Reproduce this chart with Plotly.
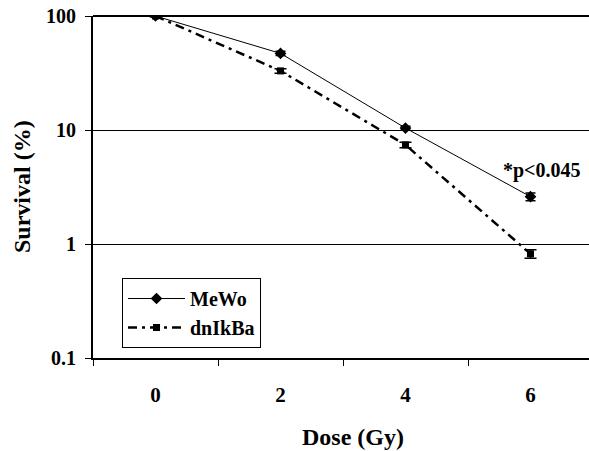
import plotly.graph_objects as go

doses = ["0", "2", "4", "6"]
mewo = [100, 47, 10.4, 2.6]
mewo_err = [1.5, 2.0, 0.4, 0.2]
dnikba = [100, 33, 7.4, 0.82]
dnikba_err = [1.5, 1.5, 0.4, 0.07]
y_ticks = [0.1, 1, 10, 100]
y_ticklabels = ["0.1", "1", "10", "100"]

FONT = "Liberation Serif, Times New Roman, serif"

W, H = 589, 451
L, T, B = 93, 16, 93
PW = W - L
PH = H - T - B

fig = go.Figure()
fig.add_trace(go.Scatter(
    x=doses, y=mewo, name="MeWo", mode="lines+markers",
    line=dict(color="black", width=1),
    marker=dict(symbol="diamond", size=9, color="black"),
    error_y=dict(type="data", array=mewo_err, color="black", thickness=1.5, width=5),
))
fig.add_trace(go.Scatter(
    x=doses, y=dnikba, name="dnIkBa", mode="lines+markers",
    line=dict(color="black", width=2.5, dash="9px,5px,3px,5px"),
    marker=dict(symbol="square", size=7, color="black"),
    error_y=dict(type="data", array=dnikba_err, color="black", thickness=1.5, width=6),
))

def px_x(ax):
    return (ax - L) / PW

def px_y(ay):
    return (T + PH - ay) / PH

fig.update_layout(
    width=W, height=H,
    margin=dict(l=L, r=0, t=T, b=B, autoexpand=False),
    paper_bgcolor="white", plot_bgcolor="white",
    font=dict(family=FONT, size=21, color="black", weight="bold"),
    showlegend=True,
    legend=dict(
        x=px_x(122), y=px_y(278), xanchor="left", yanchor="top",
        bordercolor="black", borderwidth=1, bgcolor="white",
        font=dict(family=FONT, size=20, color="black", weight="bold"),
        itemwidth=57, tracegroupgap=0,
    ),
    xaxis=dict(
        type="category", range=[-0.5, 3.468], automargin=False,
        showline=True, linecolor="black", linewidth=2,
        ticks="outside", tickson="boundaries", ticklen=6, tickwidth=1, tickcolor="black",
        showgrid=False, ticklabelstandoff=17,
        tickfont=dict(family=FONT, size=21, color="black", weight="bold"),
    ),
    yaxis=dict(
        type="log", range=[-1, 2], automargin=False,
        tickvals=y_ticks, ticktext=y_ticklabels,
        showline=True, linecolor="black", linewidth=2,
        ticks="outside", ticklen=6, tickwidth=1, tickcolor="black",
        showgrid=True, gridcolor="black", gridwidth=1,
        ticklabelstandoff=5, ticklabeloverflow="allow",
        tickfont=dict(family=FONT, size=20, color="black", weight="bold"),
    ),
    shapes=[
        dict(type="line", xref="paper", yref="paper", x0=0, x1=1, y0=1, y1=1,
             line=dict(color="black", width=2), layer="below"),
    ],
    annotations=[
        dict(text="Dose (Gy)", xref="paper", yref="paper", x=px_x(353), y=px_y(437),
             xanchor="center", yanchor="middle",
             showarrow=False, font=dict(family=FONT, size=24, weight="bold")),
        dict(text="Survival (%)", xref="paper", yref="paper", x=px_x(22), y=px_y(187),
             xanchor="center", yanchor="middle",
             showarrow=False, textangle=-90, font=dict(family=FONT, size=24, weight="bold")),
        dict(text="*p<0.045", xref="paper", yref="paper", x=px_x(542), y=px_y(170),
             xanchor="center", yanchor="middle",
             showarrow=False, font=dict(family=FONT, size=20, weight="bold")),
    ],
)

fig.write_html("out.html", config={"displayModeBar": False},
               post_script="document.body.style.margin='0';")
